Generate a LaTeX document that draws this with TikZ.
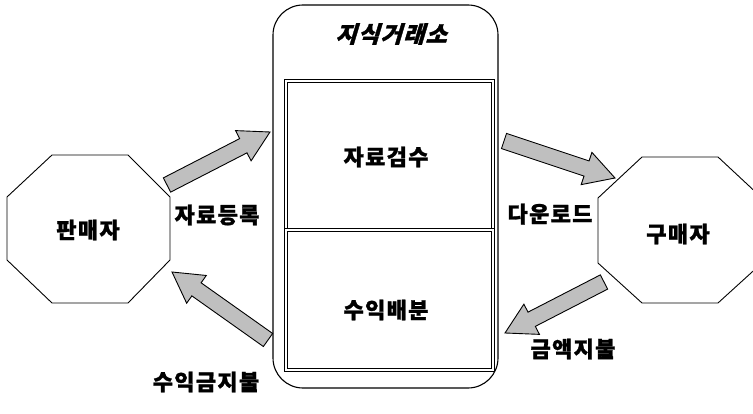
\documentclass[tikz,border=0pt]{standalone}
\usepackage{fontspec}
\newfontfamily\krb[FakeBold=1.2, LetterSpace=6]{Noto Sans CJK KR}
\newfontfamily\krit[FakeSlant=0.3, FakeBold=1.5, LetterSpace=6]{Noto Sans CJK KR}
\usetikzlibrary{calc}
\tikzset{
 lbl/.style={font=\fontsize{22}{24}\selectfont\krb\bfseries, inner sep=0pt},
 octo/.style={draw=black, line width=0.9pt, fill=white},
 fat/.style={draw=black, line width=0.9pt, fill=gray!50, line join=miter},
 ibox/.style={draw=black, double=white, double distance=1.6pt, line width=0.9pt, inner sep=0pt},
 outer/.style={draw=black, line width=1.1pt, rounded corners=30pt, inner sep=0pt},
}
\newcommand\fatarrow[2]{%
 \path ($(#2)!30pt!(#1)$) coordinate (fa-h);
 \draw[fat] ($(#1)!8pt!90:(#2)$) -- ($(fa-h)!8pt!90:(#2)$) -- ($(fa-h)!17pt!90:(#2)$)
   -- (#2) -- ($(fa-h)!17pt!-90:(#2)$) -- ($(fa-h)!8pt!-90:(#2)$) -- ($(#1)!8pt!-90:(#2)$) -- cycle;
}
\begin{document}
\begin{tikzpicture}[x=1pt,y=-1pt]
\useasboundingbox (0,0) rectangle (753,414);
\fill[white] (0,0) rectangle (753,414);
\clip (0,0) rectangle (753,414);

% central exchange
\node[outer, minimum width=225pt, minimum height=383pt] (exch) at (385.5,196.5) {};
\node[font=\fontsize{23}{25}\selectfont\krit\bfseries, inner sep=0pt] (title) at (391,34) {지식거래소};
\node[ibox, minimum width=207pt, minimum height=149pt] (check) at (389.5,155.5) {};
\node[ibox, minimum width=207pt, minimum height=140pt] (share) at (389.5,300) {};
\node[lbl] (checkt) at (386,157) {자료검수};
\node[lbl] (sharet) at (386,310) {수익배분};

% seller octagon
\draw[octo] (52,155) -- (128,155) -- (170,197) -- (170,260) -- (128,303) -- (52,303) -- (7,260) -- (7,197) -- cycle;
\node[lbl] (seller) at (88,230) {판매자};
% buyer octagon
\draw[octo] (642,157) -- (718,157) -- (762,198) -- (762,263) -- (718,303) -- (642,303) -- (598,263) -- (598,198) -- cycle;
\node[lbl] (buyer) at (678,234) {구매자};

% arrows
\coordinate (a1) at (167,185); \coordinate (b1) at (270,132);
\coordinate (a2) at (268,340); \coordinate (b2) at (172,272);
\coordinate (a3) at (504,141); \coordinate (b3) at (615,178);
\coordinate (a4) at (604,282); \coordinate (b4) at (505,333);
\fatarrow{a1}{b1}
\fatarrow{a2}{b2}
\fatarrow{a3}{b3}
\fatarrow{a4}{b4}

\node[lbl] (l1) at (217,215) {자료등록};
\node[lbl] (l2) at (206,382) {수익금지불};
\node[lbl] (l3) at (550,214) {다운로드};
\node[lbl] (l4) at (573,349) {금액지불};
\end{tikzpicture}
\end{document}
